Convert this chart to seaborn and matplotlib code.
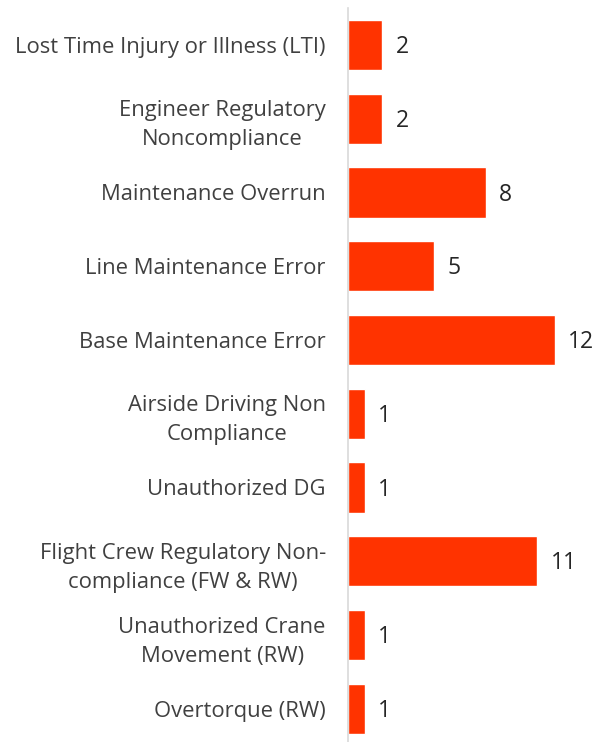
import matplotlib
matplotlib.use("Agg")
import matplotlib.pyplot as plt
import seaborn as sns
import pandas as pd

categories = [
    "Lost Time Injury or Illness (LTI)",
    "Engineer Regulatory\nNoncompliance",
    "Maintenance Overrun",
    "Line Maintenance Error",
    "Base Maintenance Error",
    "Airside Driving Non\nCompliance",
    "Unauthorized DG",
    "Flight Crew Regulatory Non-\ncompliance (FW & RW)",
    "Unauthorized Crane\nMovement (RW)",
    "Overtorque (RW)",
]
counts = [2, 2, 8, 5, 12, 1, 1, 11, 1, 1]

df = pd.DataFrame({"category": categories, "count": counts})

sns.set_theme(style="white")
plt.rcParams["font.family"] = ["Open Sans", "DejaVu Sans"]

W, H = 613, 742
fig = plt.figure(figsize=(W / 100, H / 100), dpi=100)
left = 348 / W
right = 589 / W
top = 1 - 8 / H
bottom = 0.0
ax = fig.add_axes([left, bottom, right - left, top - bottom])

sns.barplot(data=df, x="count", y="category", color="#FF3300", width=0.68,
            saturation=1, ax=ax, orient="h")

ax.set_xlim(0, 14)
ax.set_ylim(9.45, -0.5)
ax.set_xlabel("")
ax.set_ylabel("")
ax.set_xticks([])
for s in ["top", "right", "bottom"]:
    ax.spines[s].set_visible(False)
ax.spines["left"].set_color("#d9d9d9")
ax.spines["left"].set_linewidth(1.2)
ax.tick_params(axis="y", length=0, pad=16)
for lbl in ax.get_yticklabels():
    lbl.set_fontsize(15.8)
    lbl.set_color("#404040")
    lbl.set_multialignment("center")
    lbl.set_linespacing(1.5)

for i, v in enumerate(counts):
    ax.annotate(str(v), xy=(v, i), xytext=(9.5, -1.5), textcoords="offset points",
                va="center", ha="left", fontsize=16.5, color="#262626",
                annotation_clip=False)

fig.savefig("out.png", dpi=100)
